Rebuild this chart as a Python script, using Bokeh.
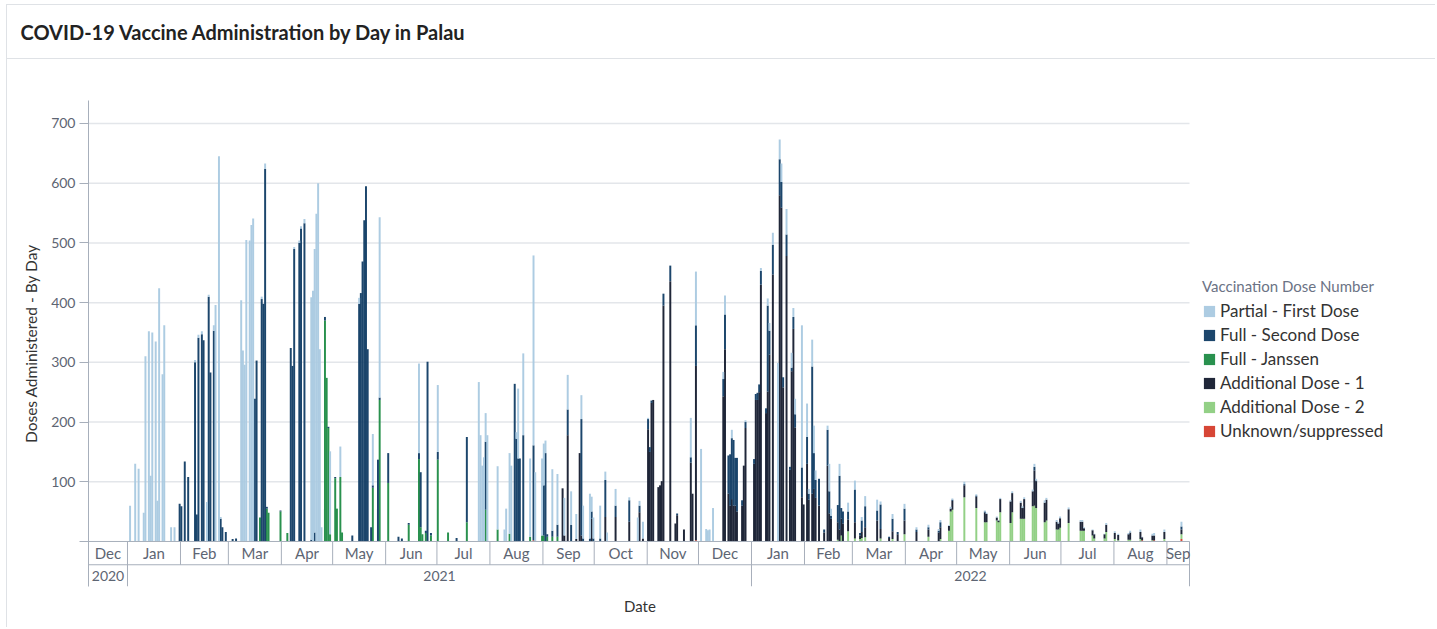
import pandas as pd
from bokeh.plotting import figure
from bokeh.models import (Range1d, FixedTicker, Legend, LegendItem, ColumnDataSource, Title,
                          LinearAxis)
from bokeh.core.properties import value
from bokeh.embed import file_html
from bokeh.resources import INLINE

TITLE = "COVID-19 Vaccine Administration by Day in Palau"
Y_LABEL = "Doses Administered - By Day"
X_LABEL = "Date"
LEGEND_TITLE = "Vaccination Dose Number"
series_names = ["Partial - First Dose", "Full - Second Dose", "Full - Janssen",
                "Additional Dose - 1", "Additional Dose - 2", "Unknown/suppressed"]
series_colors = ["#a9c9e0", "#103c64", "#1e8b45", "#141b2e", "#8dcd7f", "#d53c2b"]
y_ticks = [0, 100, 200, 300, 400, 500, 600, 700]
x_start = "2020-12-09 04:30"
x_end = "2022-09-14 05:00"

first_dose = {
    "2021-01-02": 60, "2021-01-05": 130, "2021-01-07": 122, "2021-01-10": 48, "2021-01-11": 310,
    "2021-01-13": 352, "2021-01-14": 110, "2021-01-15": 350, "2021-01-17": 335, "2021-01-18": 68,
    "2021-01-19": 424, "2021-01-21": 280, "2021-01-22": 362, "2021-01-26": 24, "2021-01-28": 24,
    "2021-02-09": 4, "2021-02-11": 5, "2021-02-13": 5, "2021-02-16": 66, "2021-02-17": 3,
    "2021-02-20": 9, "2021-02-21": 396, "2021-02-23": 645, "2021-02-24": 3,
    "2021-03-08": 404, "2021-03-09": 320, "2021-03-10": 296, "2021-03-11": 505, "2021-03-13": 504,
    "2021-03-14": 530, "2021-03-15": 541, "2021-03-20": 4, "2021-03-22": 9,
    "2021-04-08": 3, "2021-04-11": 4, "2021-04-12": 4, "2021-04-14": 7, "2021-04-18": 406,
    "2021-04-19": 420, "2021-04-20": 475, "2021-04-21": 549, "2021-04-22": 600, "2021-04-23": 322,
    "2021-04-24": 24, "2021-04-29": 139,
    "2021-05-05": 51, "2021-05-16": 10, "2021-05-24": 86, "2021-05-28": 302,
    "2021-06-20": 150, "2021-07-01": 112,
    "2021-07-25": 267, "2021-07-26": 178, "2021-07-27": 127, "2021-07-28": 141, "2021-07-29": 48,
    "2021-07-30": 178,
    "2021-08-05": 106, "2021-08-09": 20, "2021-08-10": 55, "2021-08-12": 135, "2021-08-13": 127,
    "2021-08-16": 11, "2021-08-17": 117, "2021-08-20": 137, "2021-08-24": 131, "2021-08-26": 318,
    "2021-08-27": 116, "2021-08-31": 129,
    "2021-09-01": 70, "2021-09-02": 21, "2021-09-06": 103, "2021-09-09": 85, "2021-09-13": 63,
    "2021-09-15": 58, "2021-09-17": 56, "2021-09-20": 42, "2021-09-23": 40, "2021-09-24": 55,
    "2021-09-28": 75, "2021-09-29": 25, "2021-09-30": 35,
    "2021-10-04": 55, "2021-10-07": 14, "2021-10-08": 15, "2021-10-13": 28, "2021-10-21": 5,
    "2021-10-26": 40, "2021-10-27": 8, "2021-10-29": 28,
    "2021-11-01": 2, "2021-11-26": 66, "2021-11-29": 90,
    "2021-12-02": 155, "2021-12-05": 21, "2021-12-06": 19, "2021-12-07": 20, "2021-12-09": 56,
    "2021-12-15": 12, "2021-12-16": 32, "2021-12-20": 14, "2021-12-28": 3,
    "2022-01-06": 5, "2022-01-10": 12, "2022-01-11": 13, "2022-01-13": 20, "2022-01-16": 299,
    "2022-01-17": 33, "2022-01-18": 31, "2022-01-21": 43, "2022-01-24": 25, "2022-01-25": 15,
    "2022-01-26": 26, "2022-01-30": 238,
    "2022-02-02": 56, "2022-02-03": 8, "2022-02-05": 45, "2022-02-06": 46, "2022-02-07": 16,
    "2022-02-14": 7, "2022-02-15": 46, "2022-02-16": 12, "2022-02-21": 20, "2022-02-26": 15,
    "2022-03-02": 15, "2022-03-06": 6, "2022-03-08": 17, "2022-03-15": 18, "2022-03-17": 5,
    "2022-03-24": 8, "2022-03-31": 8,
    "2022-04-07": 4, "2022-04-14": 4, "2022-04-20": 3, "2022-04-21": 4, "2022-04-26": 1,
    "2022-04-27": 3, "2022-04-28": 2,
    "2022-05-05": 4, "2022-05-12": 2, "2022-05-17": 2, "2022-05-18": 2, "2022-05-24": 2,
    "2022-05-25": 1, "2022-05-26": 2,
    "2022-06-01": 2, "2022-06-02": 3, "2022-06-07": 3, "2022-06-08": 3, "2022-06-09": 3,
    "2022-06-14": 3, "2022-06-15": 5, "2022-06-16": 3, "2022-06-21": 4, "2022-06-22": 3,
    "2022-06-28": 3, "2022-06-29": 2, "2022-06-30": 3,
    "2022-07-05": 3, "2022-07-12": 3, "2022-07-13": 3, "2022-07-14": 2, "2022-07-19": 1,
    "2022-07-20": 1, "2022-07-26": 1, "2022-07-27": 3,
    "2022-08-01": 3, "2022-08-03": 2, "2022-08-09": 2, "2022-08-10": 3, "2022-08-16": 4,
    "2022-08-17": 1, "2022-08-23": 3, "2022-08-24": 4, "2022-08-30": 4, "2022-09-09": 8,
}

second_dose = {
    "2021-01-31": 63, "2021-02-01": 59, "2021-02-03": 134, "2021-02-05": 108, "2021-02-09": 300,
    "2021-02-10": 45, "2021-02-11": 341, "2021-02-13": 347, "2021-02-14": 337, "2021-02-17": 410,
    "2021-02-18": 283, "2021-02-20": 353, "2021-02-24": 38, "2021-02-25": 24, "2021-02-27": 16,
    "2021-03-03": 4, "2021-03-05": 5, "2021-03-16": 239, "2021-03-17": 303, "2021-03-20": 406,
    "2021-03-21": 398, "2021-03-22": 624, "2021-03-23": 3, "2021-03-31": 2,
    "2021-04-06": 324, "2021-04-07": 294, "2021-04-08": 490, "2021-04-11": 500, "2021-04-12": 524,
    "2021-04-14": 533, "2021-04-18": 3, "2021-04-20": 15, "2021-04-26": 6, "2021-04-28": 2,
    "2021-05-02": 2, "2021-05-12": 10, "2021-05-16": 398, "2021-05-17": 416, "2021-05-18": 469,
    "2021-05-19": 538, "2021-05-20": 595, "2021-05-21": 322, "2021-05-23": 24, "2021-05-24": 4,
    "2021-05-27": 137, "2021-05-28": 4,
    "2021-06-02": 50, "2021-06-08": 8, "2021-06-10": 5, "2021-06-14": 3, "2021-06-20": 10,
    "2021-06-21": 92, "2021-06-24": 4, "2021-06-25": 301, "2021-06-27": 4,
    "2021-07-01": 13, "2021-07-12": 6, "2021-07-18": 143, "2021-07-29": 114,
    "2021-08-15": 264, "2021-08-16": 172, "2021-08-17": 139, "2021-08-18": 139, "2021-08-20": 178,
    "2021-08-26": 159,
    "2021-09-01": 84, "2021-09-02": 148, "2021-09-03": 4, "2021-09-06": 10, "2021-09-09": 20,
    "2021-09-15": 43, "2021-09-17": 28, "2021-09-23": 195, "2021-09-24": 5, "2021-09-28": 5,
    "2021-09-29": 12, "2021-09-30": 5,
    "2021-10-04": 5, "2021-10-07": 62, "2021-10-13": 19, "2021-10-21": 36, "2021-10-27": 11,
    "2021-11-01": 17, "2021-11-02": 8, "2021-11-03": 4, "2021-11-10": 20, "2021-11-14": 26,
    "2021-11-18": 3, "2021-11-26": 9, "2021-11-29": 68,
    "2021-12-15": 29, "2021-12-16": 58, "2021-12-18": 64, "2021-12-19": 86, "2021-12-20": 102,
    "2021-12-21": 110, "2021-12-22": 80, "2021-12-23": 90, "2021-12-26": 9, "2021-12-28": 10,
    "2022-01-02": 8, "2022-01-03": 10, "2022-01-04": 12, "2022-01-05": 13, "2022-01-06": 23,
    "2022-01-09": 8, "2022-01-10": 144, "2022-01-11": 40, "2022-01-13": 50, "2022-01-17": 60,
    "2022-01-18": 43, "2022-01-19": 17, "2022-01-21": 36, "2022-01-23": 5, "2022-01-24": 6,
    "2022-01-25": 20, "2022-01-26": 22, "2022-01-30": 50,
    "2022-02-02": 45, "2022-02-03": 10, "2022-02-05": 213, "2022-02-06": 60, "2022-02-07": 30,
    "2022-02-09": 45, "2022-02-12": 5, "2022-02-14": 60, "2022-02-15": 37, "2022-02-16": 5,
    "2022-02-20": 29, "2022-02-21": 90, "2022-02-22": 18, "2022-02-23": 20, "2022-02-26": 13,
    "2022-03-02": 55, "2022-03-05": 4, "2022-03-06": 19, "2022-03-08": 35, "2022-03-15": 17,
    "2022-03-17": 41, "2022-03-22": 2, "2022-03-24": 21, "2022-03-27": 4, "2022-03-31": 20,
    "2022-04-07": 4, "2022-04-14": 4, "2022-04-20": 3, "2022-04-21": 8, "2022-04-28": 2,
    "2022-05-05": 2, "2022-05-12": 2, "2022-05-17": 2, "2022-06-15": 6, "2022-06-16": 1,
    "2022-09-09": 5,
}

janssen = {
    "2021-03-19": 40, "2021-03-23": 55, "2021-03-24": 48, "2021-03-31": 50, "2021-04-04": 14,
    "2021-04-26": 370, "2021-04-27": 274, "2021-04-28": 190, "2021-04-29": 12,
    "2021-05-02": 106, "2021-05-03": 55, "2021-05-05": 108, "2021-05-06": 15, "2021-05-24": 90,
    "2021-05-28": 237, "2021-06-02": 98, "2021-06-14": 28, "2021-06-20": 138, "2021-06-21": 24,
    "2021-06-22": 12, "2021-06-24": 14, "2021-06-27": 10, "2021-07-01": 137, "2021-07-07": 15,
    "2021-07-18": 32, "2021-07-29": 53, "2021-08-05": 20, "2021-08-12": 13, "2021-08-24": 8,
    "2021-08-31": 10, "2021-09-01": 10, "2021-09-03": 8, "2021-09-06": 8, "2021-09-09": 8,
}

additional_1 = {
    "2021-09-12": 89, "2021-09-13": 10, "2021-09-15": 178, "2021-09-20": 4, "2021-09-22": 148,
    "2021-09-23": 10, "2021-09-29": 38, "2021-10-07": 41, "2021-10-13": 41, "2021-10-21": 33,
    "2021-10-27": 49, "2021-10-29": 5,
    "2021-11-01": 188, "2021-11-02": 150, "2021-11-03": 232, "2021-11-04": 237, "2021-11-07": 91,
    "2021-11-08": 94, "2021-11-09": 101, "2021-11-10": 395, "2021-11-14": 436, "2021-11-17": 30,
    "2021-11-18": 44, "2021-11-22": 20, "2021-11-26": 132, "2021-11-27": 80, "2021-11-29": 292,
    "2021-12-15": 243, "2021-12-16": 322, "2021-12-18": 80, "2021-12-19": 60, "2021-12-20": 71,
    "2021-12-21": 60, "2021-12-22": 60, "2021-12-23": 50, "2021-12-26": 60, "2021-12-27": 127,
    "2021-12-28": 190,
    "2022-01-02": 130, "2022-01-03": 237, "2022-01-04": 237, "2022-01-05": 250, "2022-01-06": 430,
    "2022-01-09": 215, "2022-01-10": 251, "2022-01-11": 313, "2022-01-13": 447, "2022-01-17": 580,
    "2022-01-18": 559, "2022-01-19": 258, "2022-01-21": 478, "2022-01-23": 120, "2022-01-24": 285,
    "2022-01-25": 356, "2022-01-26": 191, "2022-01-30": 74, "2022-01-31": 62,
    "2022-02-02": 130, "2022-02-03": 70, "2022-02-05": 80, "2022-02-06": 88, "2022-02-07": 73,
    "2022-02-09": 60, "2022-02-12": 15, "2022-02-14": 127, "2022-02-15": 47, "2022-02-16": 38,
    "2022-02-20": 29, "2022-02-21": 20, "2022-02-22": 28, "2022-02-23": 30, "2022-02-26": 20,
    "2022-03-02": 27, "2022-03-05": 6, "2022-03-06": 10, "2022-03-08": 17, "2022-03-15": 35,
    "2022-03-17": 16, "2022-03-22": 6, "2022-03-24": 13, "2022-03-27": 12, "2022-03-31": 23,
    "2022-04-07": 16, "2022-04-14": 12, "2022-04-20": 15, "2022-04-21": 20, "2022-04-26": 8,
    "2022-04-27": 5, "2022-04-28": 15,
    "2022-05-05": 20, "2022-05-12": 19, "2022-05-17": 16, "2022-05-18": 14, "2022-05-24": 5,
    "2022-05-25": 3, "2022-05-26": 22,
    "2022-06-01": 36, "2022-06-02": 32, "2022-06-07": 27, "2022-06-08": 18, "2022-06-09": 33,
    "2022-06-14": 25, "2022-06-15": 59, "2022-06-16": 45, "2022-06-21": 33, "2022-06-22": 35,
    "2022-06-28": 13, "2022-06-29": 10, "2022-06-30": 16,
    "2022-07-05": 23, "2022-07-12": 15, "2022-07-13": 15, "2022-07-14": 4, "2022-07-19": 9,
    "2022-07-20": 7, "2022-07-26": 7, "2022-07-27": 12,
    "2022-08-01": 10, "2022-08-03": 9, "2022-08-09": 9, "2022-08-10": 12, "2022-08-16": 12,
    "2022-08-17": 5, "2022-08-23": 8, "2022-08-24": 8, "2022-08-30": 12, "2022-09-09": 8,
}

additional_2 = {
    "2022-02-20": 3, "2022-02-22": 10, "2022-02-26": 17, "2022-03-02": 5, "2022-03-05": 4,
    "2022-03-06": 6, "2022-03-08": 7, "2022-03-17": 5, "2022-03-24": 4, "2022-03-31": 12,
    "2022-04-14": 8, "2022-04-21": 4, "2022-04-26": 18, "2022-04-27": 50, "2022-04-28": 53,
    "2022-05-05": 74, "2022-05-12": 56, "2022-05-17": 32, "2022-05-18": 32, "2022-05-24": 35,
    "2022-05-25": 32, "2022-05-26": 49,
    "2022-06-01": 31, "2022-06-02": 49, "2022-06-07": 38, "2022-06-08": 38, "2022-06-09": 38,
    "2022-06-14": 59, "2022-06-15": 60, "2022-06-16": 56, "2022-06-21": 32, "2022-06-22": 35,
    "2022-06-28": 20, "2022-06-29": 20, "2022-06-30": 23,
    "2022-07-05": 30, "2022-07-12": 18, "2022-07-13": 18, "2022-07-14": 18, "2022-07-19": 10,
    "2022-07-20": 5, "2022-07-26": 5, "2022-07-27": 16,
    "2022-08-01": 3, "2022-08-03": 2, "2022-08-09": 3, "2022-08-10": 3, "2022-08-16": 4,
    "2022-08-23": 2, "2022-08-30": 4, "2022-09-09": 8,
}

unknown = {
    "2021-08-26": 2, "2021-11-29": 2, "2022-07-05": 1, "2022-08-01": 1, "2022-08-17": 2,
    "2022-08-24": 2, "2022-09-09": 4,
}

# ---------------------------------------------------------------- data table
series = [first_dose, second_dose, janssen, additional_1, additional_2, unknown]
keys = ["first", "second", "janssen", "add1", "add2", "unknown"]
all_dates = sorted(set().union(*[s.keys() for s in series]))
data = {"date": pd.to_datetime(all_dates) + pd.Timedelta(hours=12)}
for k, s in zip(keys, series):
    data[k] = [s.get(d, 0) for d in all_dates]
source = ColumnDataSource(data)

FONT = "Lato"
GRID = "#e3e6ea"
AXIS = "#a7afbb"
TICK_TXT = "#5d6573"
CARD = "#dfe2e6"
DAY_MS = 86400000

# ---------------------------------------------------------------- geometry (pixels)
W, H = 1435, 627
FRAME_L, FRAME_T, FRAME_B = 88, 100, 586
TABLE_R = 1189
TITLE_GAP = 52          # empty band between the title and the plot area
xs = pd.Timestamp(x_start)
xe = pd.Timestamp(x_end)
px_per_day = (TABLE_R - FRAME_L) / ((xe - xs) / pd.Timedelta(days=1))
x_range_end = xs + pd.Timedelta(days=(W - FRAME_L) / px_per_day)
Y_BOTTOM = -75.4
Y_TOP = 738.5
ROW1 = -39.0

card_css = {
    "background-color": "white",
    "background-image": ", ".join([f"linear-gradient({CARD}, {CARD})"] * 3),
    "background-size": "1px 100%, 100% 1px, 100% 1px",
    "background-position": "6px 4px, 6px 4px, 6px 58px",
    "background-repeat": "no-repeat",
}

p = figure(width=W, height=H, x_axis_location=None, title=None,
           x_range=Range1d(xs, x_range_end), y_range=Range1d(Y_BOTTOM, Y_TOP),
           output_backend="svg", toolbar_location=None, styles=card_css,
           min_border_left=FRAME_L, min_border_right=0, min_border_top=FRAME_T,
           min_border_bottom=H - FRAME_B)
p.outline_line_color = None
p.background_fill_color = "white"
p.border_fill_alpha = 0
p.grid.visible = False

# invisible spacer axis next to the plot area (one hidden tick gives it its height),
# then the title stacked above it
spacer_tick = float((xs + pd.Timedelta(days=30)).value // 10**6)
spacer = LinearAxis(ticker=FixedTicker(ticks=[spacer_tick]),
                    major_label_overrides={spacer_tick: ""},
                    axis_line_color=None, major_tick_line_color=None,
                    minor_tick_line_color=None, major_tick_in=0,
                    major_tick_out=TITLE_GAP, major_label_standoff=0,
                    major_label_text_font_size="1px")
p.add_layout(spacer, "above")
p.add_layout(Title(text=TITLE, text_font=FONT, text_font_size="20px", text_font_style="bold",
                   text_color="#222222", align="left", offset=20 - FRAME_L, standoff=10), "above")

# x axis title, centred under the dated part of the plot
p.add_layout(Title(text=X_LABEL, align="left", offset=(FRAME_L + TABLE_R) / 2 - FRAME_L - 15,
                   standoff=16, text_font=FONT, text_font_size="15px", text_font_style="normal",
                   text_color="#333333"), "below")

yax = p.yaxis[0]
yax.ticker = FixedTicker(ticks=y_ticks)
yax.major_label_overrides = {0: ""}
yax.minor_tick_line_color = None
yax.axis_line_color = AXIS
yax.major_tick_line_color = AXIS
yax.major_tick_out = 9
yax.major_tick_in = 0
yax.major_label_standoff = 4
yax.major_label_text_font = FONT
yax.major_label_text_font_size = "14px"
yax.major_label_text_color = TICK_TXT
yax.axis_label = Y_LABEL
yax.axis_label_text_font = FONT
yax.axis_label_text_font_size = "15.5px"
yax.axis_label_text_font_style = "normal"
yax.axis_label_text_color = "#333333"
yax.axis_label_standoff = 8

# horizontal grid lines, only over the dated span
gy = y_ticks[1:]
p.segment(x0=[xs] * len(gy), y0=gy, x1=[xe] * len(gy), y1=gy, line_color=GRID, line_width=1.5)

# stacked bars: bottom -> top is the reverse of the legend order
stack_keys = keys[::-1]
stack_colors = series_colors[::-1]
renderers = p.vbar_stack(stack_keys, x="date", width=DAY_MS * 1.15, fill_color=stack_colors,
                         line_color=None, fill_alpha=0.95, source=source)
rmap = dict(zip(stack_keys, renderers))

# date "table" below the bars (month row and year row)
month_starts = pd.date_range("2020-12-01", "2022-09-01", freq="MS")
sx0, sy0, sx1, sy1 = [], [], [], []
mx, mt = [], []
for ms in month_starts:
    nxt = ms + pd.offsets.MonthBegin(1)
    a, b = max(ms, xs), min(nxt, xe)
    mx.append(a + (b - a) / 2)
    mt.append(ms.strftime("%b"))
    if xs < ms < xe:
        sx0.append(ms); sx1.append(ms); sy0.append(0)
        sy1.append(Y_BOTTOM if ms.month == 1 else ROW1)
sx0.append(xe); sx1.append(xe); sy0.append(0); sy1.append(Y_BOTTOM)
sx0 += [xs, xs]; sx1 += [xe, xe]; sy0 += [0, ROW1]; sy1 += [0, ROW1]
p.segment(x0=sx0, y0=sy0, x1=sx1, y1=sy1, line_color=AXIS, line_width=1)

p.text(x=mx, y=[ROW1 / 2] * len(mx), text=mt, text_font=value(FONT), text_font_size="15px",
       text_align="center", text_baseline="middle", text_color=TICK_TXT)

yx, yt = [], []
for yr in [2020, 2021, 2022]:
    a = max(pd.Timestamp(f"{yr}-01-01"), xs)
    b = min(pd.Timestamp(f"{yr + 1}-01-01"), xe)
    yx.append(a + (b - a) / 2)
    yt.append(str(yr))
p.text(x=yx, y=[(ROW1 + Y_BOTTOM) / 2] * 3, text=yt, text_font=value(FONT),
       text_font_size="14px", text_align="center", text_baseline="middle", text_color=TICK_TXT)

legend = Legend(items=[LegendItem(label=n, renderers=[rmap[k]]) for n, k in zip(series_names, keys)],
                title=LEGEND_TITLE, location=(1202 - FRAME_L, FRAME_B - 441))
legend.title_text_font = FONT
legend.title_text_font_size = "15px"
legend.title_text_font_style = "normal"
legend.title_text_color = "#6b7385"
legend.title_standoff = 5
legend.label_text_font = FONT
legend.label_text_font_size = "17px"
legend.label_text_color = "#333333"
legend.glyph_width = 14
legend.glyph_height = 14
legend.label_height = 14
legend.spacing = 3
legend.label_standoff = 4
legend.padding = 0
legend.margin = 0
legend.border_line_color = None
legend.background_fill_alpha = 0
p.add_layout(legend)

open("out.html", "w").write(file_html(p, INLINE))
